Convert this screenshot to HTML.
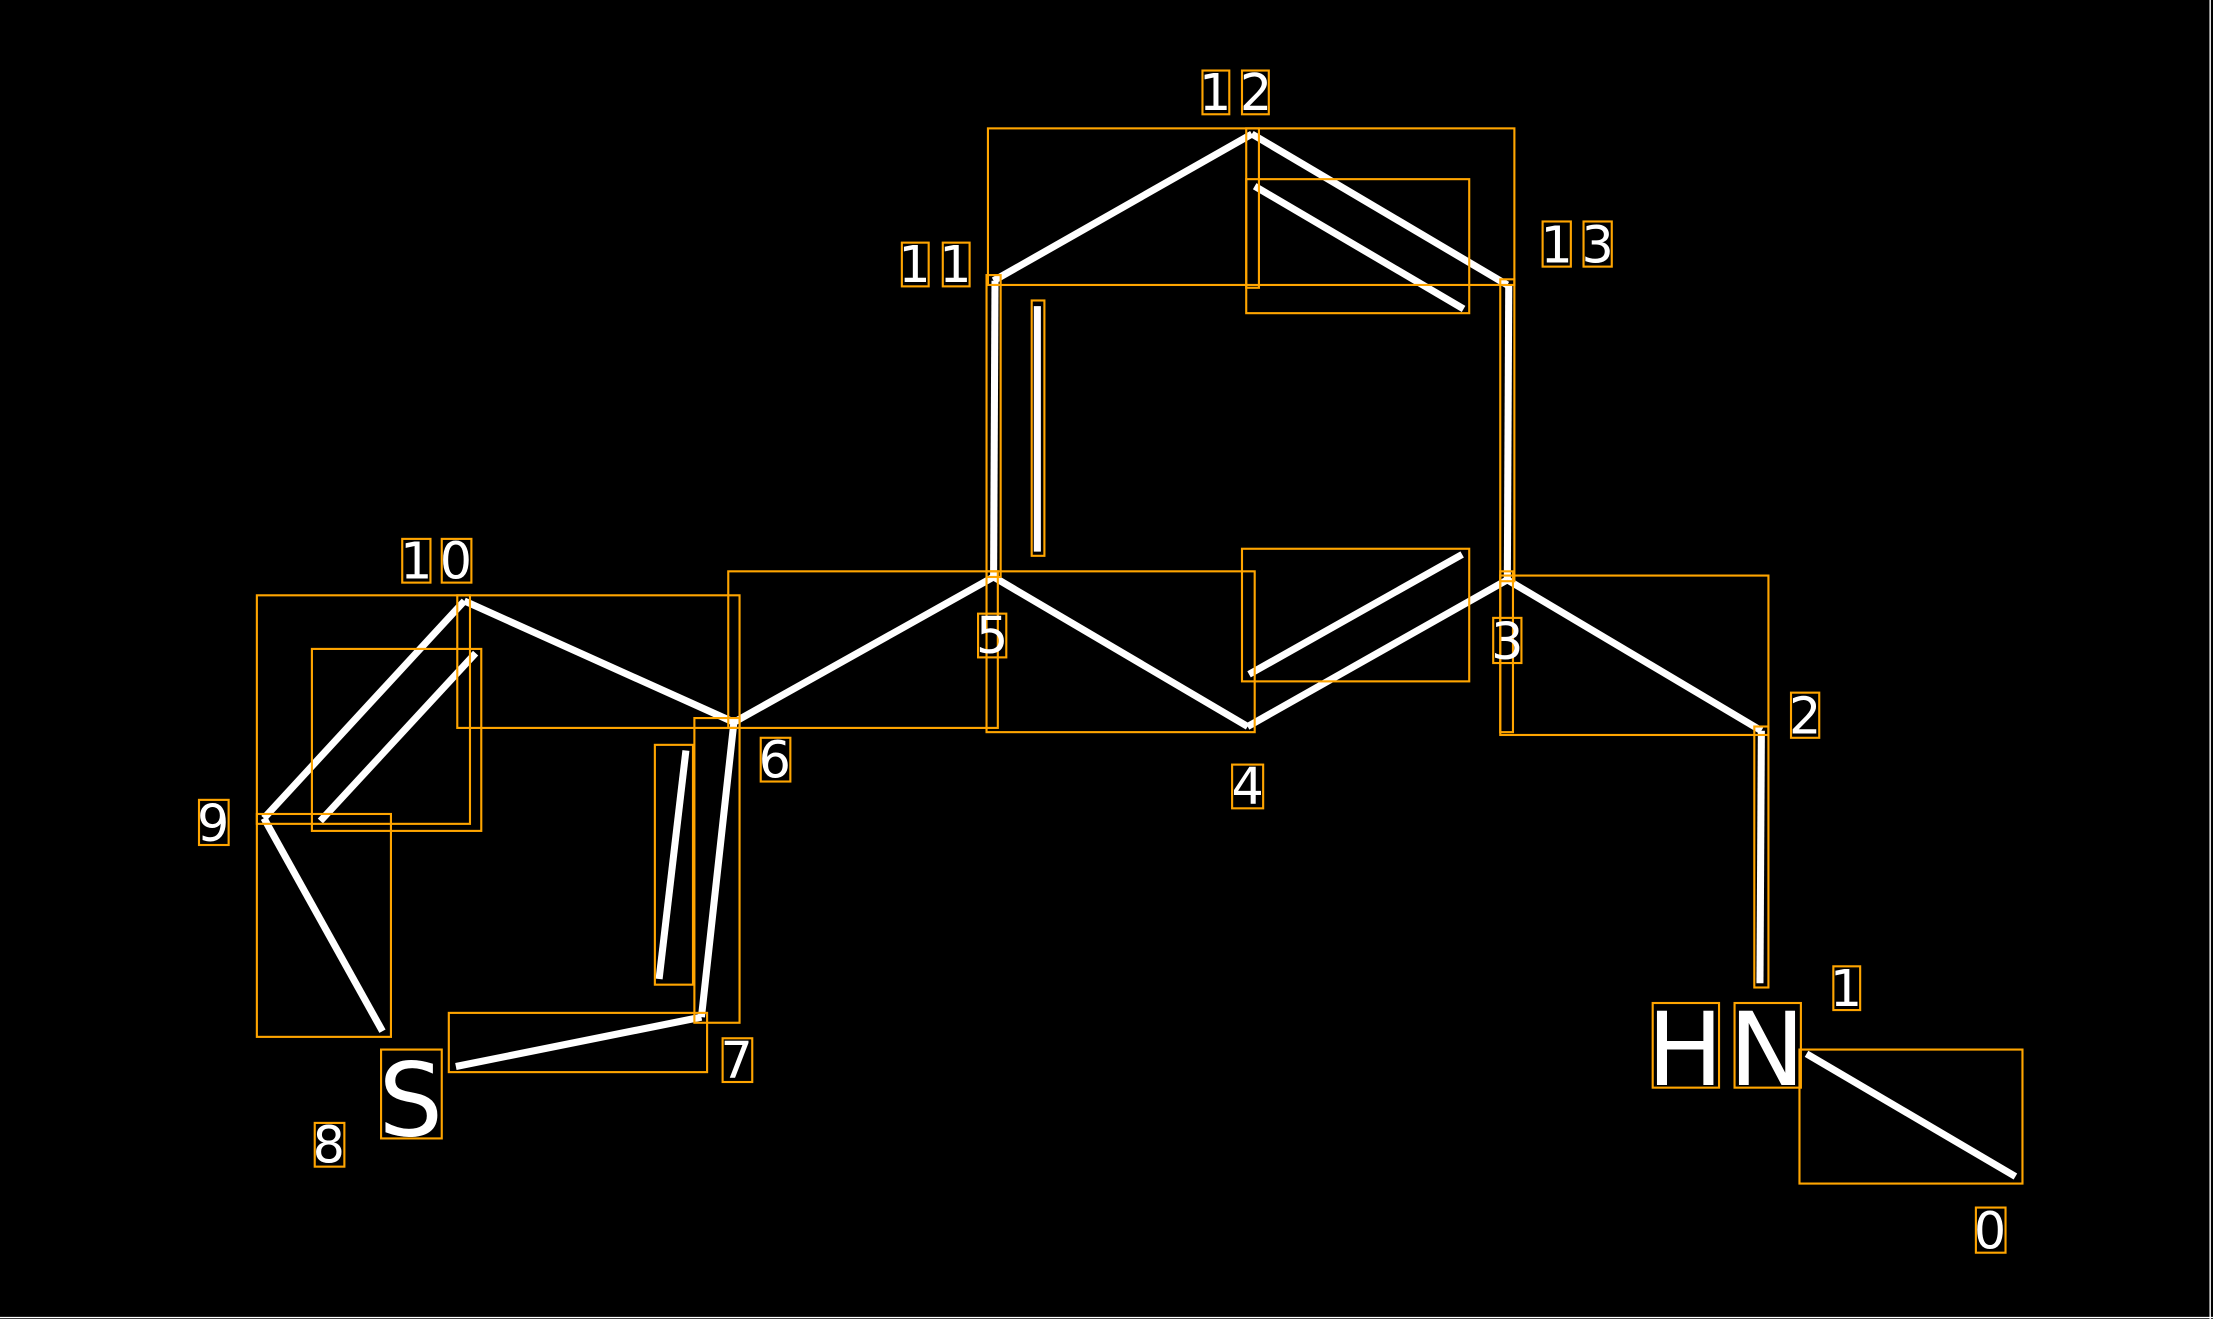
<!DOCTYPE html>
<html><head><meta charset="utf-8"><style>
html,body{margin:0;padding:0;background:#000;}
svg{display:block;}
text{font-family:"DejaVu Sans","Liberation Sans",sans-serif;fill:#fff;}
</style></head><body>
<svg width="2213" height="1319" viewBox="0 0 1568 935" preserveAspectRatio="none" xmlns="http://www.w3.org/2000/svg">
<rect x="0" y="0" width="1568" height="935" fill="#000"/>
<line x1="1566" y1="0" x2="1566" y2="935" stroke="#fff" stroke-width="1"/>
<line x1="0" y1="934" x2="1568" y2="934" stroke="#fff" stroke-width="1"/>
<g stroke="#fff" stroke-width="5" fill="none">
<line x1="887" y1="95" x2="704" y2="199"/>
<line x1="887" y1="95" x2="1068" y2="202"/>
<line x1="889" y1="132" x2="1037" y2="219"/>
<line x1="705" y1="199" x2="704" y2="409"/>
<line x1="735" y1="217" x2="735" y2="391"/>
<line x1="1069" y1="202" x2="1068" y2="411"/>
<line x1="704" y1="409" x2="884" y2="515"/>
<line x1="884" y1="515" x2="1068" y2="411"/>
<line x1="885" y1="478" x2="1036" y2="393"/>
<line x1="1068" y1="411" x2="1248" y2="518"/>
<line x1="1248" y1="518" x2="1247" y2="697"/>
<line x1="1280" y1="747" x2="1428" y2="834"/>
<line x1="704" y1="409" x2="520" y2="512"/>
<line x1="520" y1="512" x2="329" y2="426"/>
<line x1="329" y1="426" x2="187" y2="580"/>
<line x1="227" y1="582" x2="337" y2="463"/>
<line x1="187" y1="580" x2="271" y2="731"/>
<line x1="323" y1="756" x2="497" y2="721"/>
<line x1="497" y1="721" x2="520" y2="512"/>
<line x1="467" y1="694" x2="486" y2="532"/>
</g>
<g stroke="#FFA500" stroke-width="1.5" fill="none">
<rect x="700" y="91" width="373" height="111"/>
<rect x="883" y="127" width="158" height="95"/>
<rect x="883" y="91" width="9" height="113"/>
<rect x="699" y="195" width="10" height="214"/>
<rect x="731" y="213" width="9" height="181"/>
<rect x="1063" y="198" width="10" height="214"/>
<rect x="516" y="405" width="191" height="111"/>
<rect x="699" y="405" width="190" height="114"/>
<rect x="880" y="389" width="161" height="94"/>
<rect x="1063" y="408" width="190" height="113"/>
<rect x="1063" y="405" width="9" height="114"/>
<rect x="1243" y="515" width="10" height="185"/>
<rect x="1275" y="744" width="158" height="95"/>
<rect x="324" y="422" width="200" height="94"/>
<rect x="182" y="422" width="151" height="162"/>
<rect x="221" y="460" width="120" height="129"/>
<rect x="182" y="577" width="95" height="158"/>
<rect x="464" y="528" width="27" height="170"/>
<rect x="492" y="509" width="32" height="216"/>
<rect x="318" y="718" width="183" height="42"/>
<rect x="852" y="50" width="19" height="31"/><rect x="880" y="50" width="19" height="31"/>
<rect x="639" y="172" width="19" height="31"/><rect x="668" y="172" width="19" height="31"/>
<rect x="1093" y="157" width="20" height="32"/><rect x="1122" y="157" width="20" height="32"/>
<rect x="285" y="382" width="20" height="31"/><rect x="313" y="382" width="21" height="31"/>
<rect x="141" y="567" width="21" height="32"/>
<rect x="539" y="523" width="21" height="31"/>
<rect x="693" y="435" width="20" height="31"/>
<rect x="1058" y="438" width="20" height="32"/>
<rect x="873" y="542" width="22" height="31"/>
<rect x="1269" y="491" width="20" height="32"/>
<rect x="1299" y="685" width="19" height="31"/>
<rect x="1400" y="856" width="21" height="32"/>
<rect x="512" y="736" width="21" height="31"/>
<rect x="223" y="796" width="21" height="31"/>
<rect x="270" y="744" width="43" height="63"/>
<rect x="1171" y="711" width="47" height="60"/><rect x="1229" y="711" width="47" height="60"/>
</g>
<g font-size="36" text-anchor="middle">
<text x="861" y="78">1</text><text x="890" y="78">2</text>
<text x="648" y="200">1</text><text x="677" y="200">1</text>
<text x="1103" y="186">1</text><text x="1132" y="186">3</text>
<text x="295" y="410">1</text><text x="323" y="410">0</text>
<text x="151" y="596">9</text>
<text x="549" y="551">6</text>
<text x="703" y="463">5</text>
<text x="1068" y="467">3</text>
<text x="884" y="570">4</text>
<text x="1279" y="520">2</text>
<text x="1308" y="713">1</text>
<text x="1410" y="885">0</text>
<text x="522" y="764">7</text>
<text x="233" y="824">8</text>
</g>
<g font-size="72" text-anchor="middle">
<text x="291" y="805">S</text>
<text x="1194" y="769">H</text><text x="1252" y="769">N</text>
</g>
</svg>
</body></html>
